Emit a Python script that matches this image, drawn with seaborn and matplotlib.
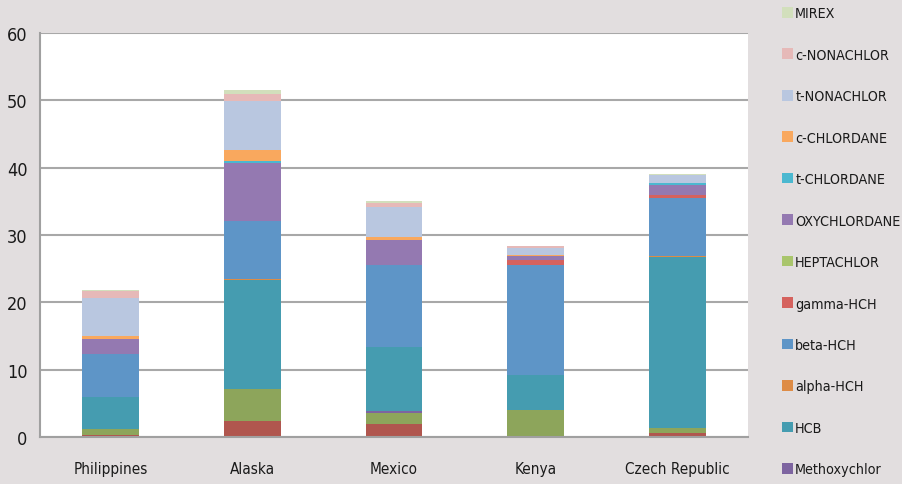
import matplotlib
matplotlib.use("Agg")
import matplotlib.pyplot as plt
import matplotlib.patches as mpatches
import seaborn as sns
import pandas as pd

countries = ["Philippines", "Alaska", "Mexico", "Kenya", "Czech Republic"]

# stacking order: top of legend / top of stack first
compounds = ["MIREX", "c-NONACHLOR", "t-NONACHLOR", "c-CHLORDANE", "t-CHLORDANE",
             "OXYCHLORDANE", "HEPTACHLOR", "gamma-HCH", "beta-HCH", "alpha-HCH",
             "HCB", "Methoxychlor", "Series 13", "Series 14"]
legend_compounds = compounds[:12]

mirex        = [0.13, 0.60, 0.35, 0.00, 0.20]
c_nonachlor  = [1.10, 0.99, 0.55, 0.40, 0.00]
t_nonachlor  = [5.65, 7.32, 4.50, 0.92, 1.23]
c_chlordane  = [0.39, 1.59, 0.44, 0.20, 0.00]
t_chlordane  = [0.00, 0.30, 0.00, 0.00, 0.24]
oxychlordane = [2.28, 8.61, 3.66, 0.64, 1.49]
heptachlor   = [0.00, 0.00, 0.00, 0.00, 0.00]
gamma_hch    = [0.00, 0.00, 0.00, 0.64, 0.44]
beta_hch     = [6.34, 8.66, 12.18, 16.34, 8.57]
alpha_hch    = [0.00, 0.17, 0.00, 0.00, 0.20]
hcb          = [4.75, 16.17, 9.51, 5.20, 25.34]
methoxychlor = [0.00, 0.00, 0.30, 0.00, 0.00]
series13     = [0.85, 4.70, 1.68, 3.86, 0.80]
series14     = [0.34, 2.43, 1.93, 0.20, 0.59]

values = [mirex, c_nonachlor, t_nonachlor, c_chlordane, t_chlordane, oxychlordane,
          heptachlor, gamma_hch, beta_hch, alpha_hch, hcb, methoxychlor,
          series13, series14]

colors = ["#D2DFBC", "#E6B9B8", "#B9C7E0", "#F9A85E", "#4BB8D0", "#9479B1",
          "#A9C56C", "#D5625E", "#5E95C7", "#DE8C46", "#459CB0", "#7D64A0",
          "#8DA55B", "#B0564E"]
palette = dict(zip(compounds, colors))

rows = []
for comp, vals in zip(compounds, values):
    for c, v in zip(countries, vals):
        rows.append({"country": c, "compound": comp, "value": v})
df = pd.DataFrame(rows)

bg = "#E2DEDF"
sns.set_style("white")
plt.rcParams["font.family"] = ["DejaVu Sans"]
plt.rcParams["font.stretch"] = "condensed"

fig = plt.figure(figsize=(9.02, 4.85), dpi=100, facecolor=bg)
ax = fig.add_axes([40/902, 47/485, 708/902, 404/485])
ax.set_facecolor("white")

sns.histplot(data=df, x="country", weights="value", hue="compound",
             hue_order=compounds, palette=palette, multiple="stack",
             discrete=True, shrink=0.4, linewidth=0, alpha=1, legend=False, ax=ax)

ax.set_xlim(-0.5, 4.5)
ax.set_ylim(0, 60)
ax.set_yticks(range(0, 61, 10))
ax.set_xticks(range(5))
ax.set_xticklabels(countries)
ax.set_xticks([i - 0.5 for i in range(6)], minor=True)
ax.set_xlabel("")
ax.set_ylabel("")
ax.yaxis.grid(True, color="#A8A8A8", linewidth=1.5)
ax.set_axisbelow(True)
for s in ["top", "right"]:
    ax.spines[s].set_visible(False)
for s in ["left", "bottom"]:
    ax.spines[s].set_color("#A0A0A0")
    ax.spines[s].set_linewidth(1.5)
ax.tick_params(axis="y", length=4, width=1.2, color="#A0A0A0", pad=5,
               labelsize=13, labelcolor="#1A1A1A")
ax.tick_params(axis="x", which="major", length=0, pad=17, labelsize=11,
               labelcolor="#1A1A1A")
ax.tick_params(axis="x", which="minor", length=6, width=1.5, color="#A0A0A0")

handles = [mpatches.Patch(facecolor=palette[c], edgecolor="none", label=c)
           for c in legend_compounds]
leg = fig.legend(handles=handles, loc="upper left", bbox_to_anchor=(782/902, 0.985),
                 frameon=False, fontsize=10.3, handlelength=0.77, handleheight=0.77,
                 handletextpad=0.15, labelspacing=1.92, borderpad=0, borderaxespad=0)
for t in leg.get_texts():
    t.set_color("#1A1A1A")

fig.savefig("out.png", dpi=100, facecolor=bg)
